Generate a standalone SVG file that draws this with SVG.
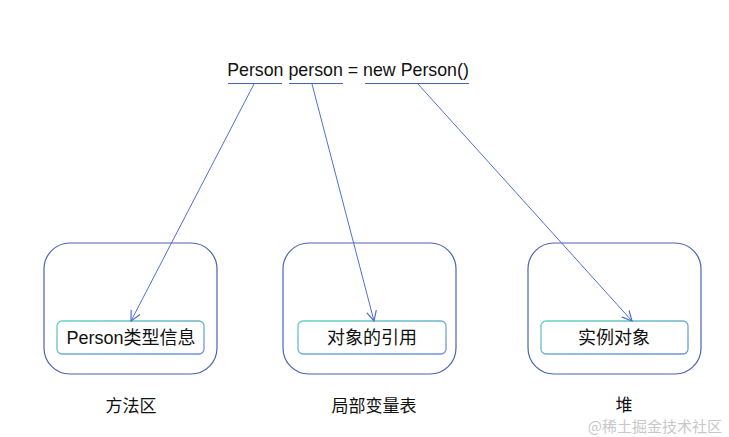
<svg xmlns="http://www.w3.org/2000/svg" width="729" height="437" viewBox="0 0 729 437">
<defs>
<linearGradient id="g" x1="0" y1="0" x2="1" y2="1">
<stop offset="0" stop-color="#66d2c0"/>
<stop offset="1" stop-color="#7191dd"/>
</linearGradient>
<marker id="ah" markerWidth="12" markerHeight="12" refX="10" refY="5" orient="auto" markerUnits="userSpaceOnUse" viewBox="0 0 12 10">
<path d="M0,0 L10,5 L0,10" fill="none" stroke="#4f6fd6" stroke-width="1.2"/>
</marker>
</defs>
<style>
.outer{fill:#fff;stroke:#4a64b0;stroke-width:1.2}
.inner{fill:#fff;stroke:url(#g);stroke-width:1.3}
.t{font-family:"Liberation Sans","Noto Sans CJK SC",sans-serif;font-size:17.8px;fill:#111;text-anchor:middle}
.lbl{font-family:"Noto Sans CJK SC","Liberation Sans",sans-serif;font-size:17px;fill:#111;text-anchor:middle}
.in{font-family:"Liberation Sans","Noto Sans CJK SC",sans-serif;font-size:18px;fill:#111;text-anchor:middle}
.ul{stroke:#4a64b0;stroke-width:1}
.c{stroke:#4f6fd6;stroke-width:1;fill:none;marker-end:url(#ah)}
</style>
<rect width="729" height="437" fill="#fff"/>
<g id="code">
<text class="t" x="348" y="76">Person person = new Person()</text>
<line class="ul" x1="228" y1="83.5" x2="282" y2="83.5"/>
<line class="ul" x1="289" y1="83.5" x2="343" y2="83.5"/>
<line class="ul" x1="365" y1="83.5" x2="469" y2="83.5"/>
</g>
<g id="method-area">
<rect class="outer" x="44" y="243" width="173" height="131" rx="26"/>
<rect class="inner" x="57" y="321" width="147" height="33" rx="5"/>
<text class="in" x="131" y="344">Person类型信息</text>
<text class="lbl" x="131" y="412">方法区</text>
</g>
<g id="local-vars">
<rect class="outer" x="283" y="243" width="173" height="131" rx="26"/>
<rect class="inner" x="298" y="321" width="148" height="33" rx="5"/>
<text class="in" x="372" y="344">对象的引用</text>
<text class="lbl" x="374" y="412">局部变量表</text>
</g>
<g id="heap">
<rect class="outer" x="528" y="243" width="173" height="131" rx="26"/>
<rect class="inner" x="541" y="321" width="147" height="33" rx="5"/>
<text class="in" x="614" y="344">实例对象</text>
<text class="lbl" x="624" y="411">堆</text>
</g>
<g id="connectors">
<line class="c" x1="254" y1="84" x2="131" y2="321"/>
<line class="c" x1="312" y1="84" x2="374" y2="321"/>
<line class="c" x1="418" y1="84" x2="632" y2="321"/>
</g>
<text x="722" y="432" font-family="Noto Sans CJK SC,sans-serif" font-size="15" fill="#c8c8c8" text-anchor="end">@稀土掘金技术社区</text>
</svg>
